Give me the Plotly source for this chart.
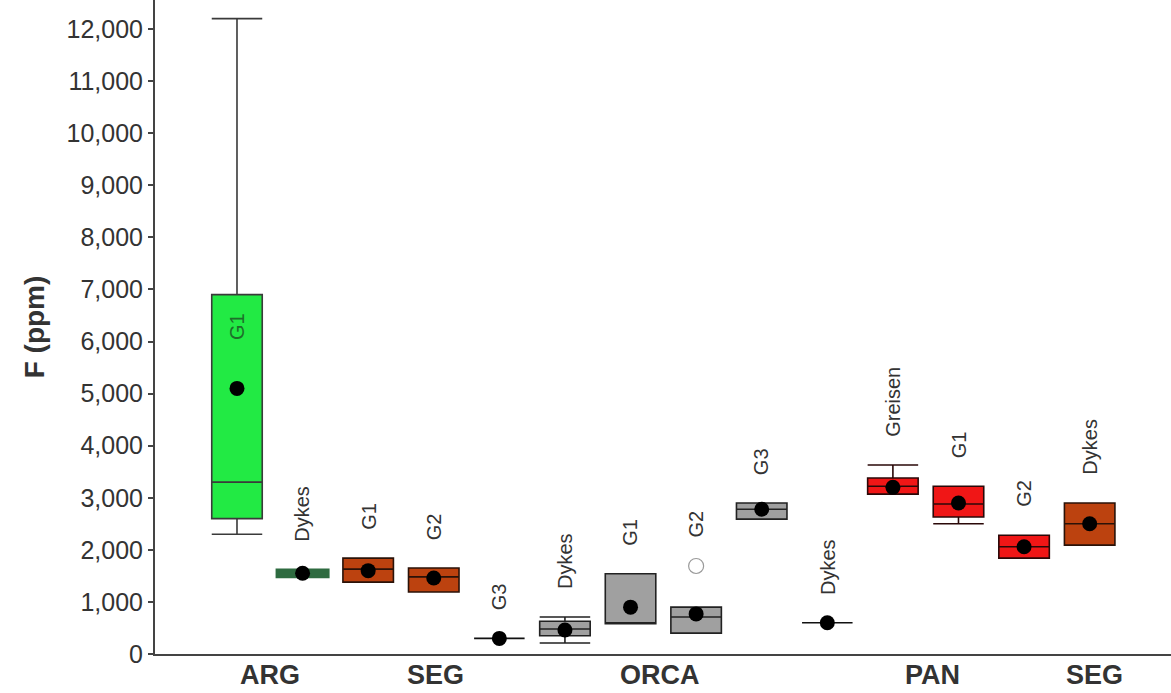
import plotly.graph_objects as go

# Sample groups (one box per group), left to right
units = ["G1", "Dykes", "G1", "G2", "G3", "Dykes", "G1", "G2", "G3", "Dykes",
         "Greisen", "G1", "G2", "Dykes"]

# Box statistics, F (ppm)
lower = [2300, 1490, 1380, 1190, 300, 210, 580, 400, 2590, 600, 3070, 2500, 1840, 2090]
q1 = [2600, 1490, 1380, 1190, 300, 350, 580, 400, 2590, 600, 3070, 2630, 1840, 2090]
median = [3300, 1550, 1630, 1480, 300, 480, 580, 710, 2780, 600, 3220, 2880, 2060, 2500]
q3 = [6900, 1610, 1840, 1650, 300, 630, 1540, 900, 2900, 600, 3380, 3220, 2280, 2900]
upper = [12200, 1610, 1840, 1650, 300, 710, 1540, 900, 2900, 600, 3630, 3220, 2280, 2900]
mean = [5100, 1550, 1600, 1460, 300, 460, 900, 770, 2780, 600, 3200, 2900, 2060, 2500]

# Outlier (ORCA G2)
outlier_idx = [7]
outlier_val = [1690]

# Complex / suite labels along the x axis
group_pos = [0.5, 3.02, 6.45, 10.6, 13.08]
group_names = ["ARG", "SEG", "ORCA", "PAN", "SEG"]

GREEN = "#22EA44"
DKGREEN = "#2E6B40"
BROWN = "#BC420F"
RED = "#F01616"
GRAY = "#A0A0A0"
fills = [GREEN, DKGREEN, BROWN, BROWN, GRAY, GRAY, GRAY, GRAY, GRAY, GRAY,
         RED, RED, RED, BROWN]
lines = ["#3a3a3a", DKGREEN, "#2a1208", "#2a1208", "#111111", "#222222",
         "#222222", "#222222", "#222222", "#111111", "#2a0808", "#2a0808",
         "#2a0808", "#2a1208"]

fig = go.Figure()

for i in range(len(units)):
    fig.add_trace(go.Box(
        x=[i], q1=[q1[i]], median=[median[i]], q3=[q3[i]],
        lowerfence=[lower[i]], upperfence=[upper[i]],
        width=0.77, whiskerwidth=1,
        fillcolor=fills[i],
        line=dict(color=lines[i], width=3.5 if i == 1 else 1.6),
        boxpoints=False, hoverinfo="skip", showlegend=False,
    ))

# Means
fig.add_trace(go.Scatter(
    x=list(range(len(units))), y=mean, mode="markers",
    marker=dict(color="black", size=15),
    showlegend=False, hoverinfo="skip",
))

# Outliers
fig.add_trace(go.Scatter(
    x=outlier_idx, y=outlier_val, mode="markers",
    marker=dict(symbol="circle-open", color="#9a9a9a", size=15, line=dict(width=1.2)),
    showlegend=False, hoverinfo="skip",
))

# Unit labels above each box
for i, name in enumerate(units):
    top = upper[i]
    for j, k in enumerate(outlier_idx):
        if k == i:
            top = max(top, outlier_val[j])
    if i == 0:
        # label sits inside the tall ARG G1 box
        fig.add_annotation(x=i, y=q3[i], text=name, textangle=-90, showarrow=False,
                           yanchor="top", yshift=-16,
                           font=dict(family="Liberation Sans", size=20, color="#1E6E2A"))
    else:
        fig.add_annotation(x=i, y=top, text=name, textangle=-90, showarrow=False,
                           yanchor="bottom", yshift=26,
                           font=dict(family="Liberation Sans", size=20, color="#333333"))

# Complex / suite names under the axis
for pos, name in zip(group_pos, group_names):
    fig.add_annotation(x=pos, xref="x", y=0, yref="paper", text="<b>%s</b>" % name,
                       showarrow=False, yanchor="middle", yshift=-21,
                       font=dict(family="Liberation Sans", size=27, color="#333333"))

fig.update_layout(
    width=1171, height=693,
    margin=dict(l=155, r=0, t=0, b=39),
    plot_bgcolor="white", paper_bgcolor="white",
    boxmode="overlay",
    font=dict(family="Liberation Sans", color="#333333"),
)

fig.update_xaxes(
    range=[-1.25, 14.24], automargin=False,
    showticklabels=False, ticks="", showgrid=False, zeroline=False,
    showline=True, linecolor="#444444", linewidth=2,
)

fig.update_yaxes(
    range=[0, 12557], automargin=False,
    tickmode="linear", tick0=0, dtick=1000, tickformat=",",
    tickfont=dict(size=25, color="#333333"),
    ticks="outside", ticklen=5, tickcolor="#444444", tickwidth=1.5,
    showgrid=False, zeroline=False,
    showline=True, linecolor="#444444", linewidth=2,
    title=dict(text="<b>F (ppm)</b>", font=dict(size=28, color="#333333"), standoff=14),
)

fig.write_html("out.html")
